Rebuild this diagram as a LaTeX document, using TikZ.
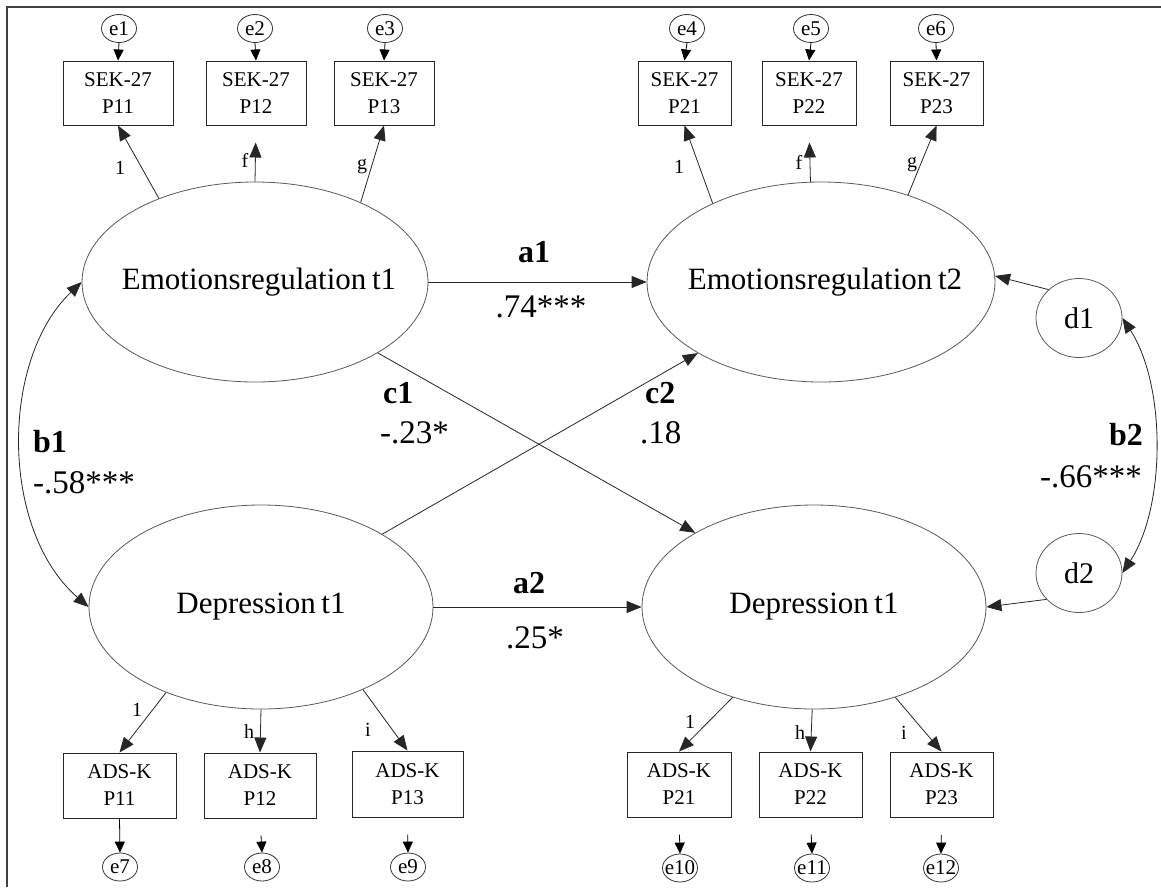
\documentclass[tikz,border=0pt]{standalone}
\usepackage{fontspec}
\setmainfont{Liberation Serif}
\usetikzlibrary{arrows.meta,shapes.geometric}
\begin{document}
\begin{tikzpicture}[x=1pt,y=-1pt,
 latent/.style={ellipse, draw=black!65, line width=0.8pt, inner sep=0pt, font=\fontsize{31}{36}\selectfont},
 dist/.style={ellipse, draw=black!65, line width=0.8pt, inner sep=0pt, minimum width=86pt, minimum height=79pt, font=\fontsize{30}{34}\selectfont},
 err/.style={ellipse, draw=black!80, line width=0.8pt, inner sep=0pt, minimum width=35pt, minimum height=28pt, font=\fontsize{21}{22}\selectfont},
 obs/.style={rectangle, draw=black!85, line width=1pt, inner sep=0pt, align=center, font=\fontsize{21}{27}\selectfont},
 pth/.style={draw=black!85, line width=0.8pt, -{Triangle[length=15pt,width=12pt]}},
 cov/.style={draw=black!85, line width=0.8pt, {Triangle[length=15pt,width=12pt]}-{Triangle[length=15pt,width=12pt]}},
 small/.style={draw=black, line width=0.8pt, -{Triangle[length=11pt,width=10pt]}},
 lab/.style={inner sep=0pt, font=\fontsize{20}{22}\selectfont},
 blab/.style={inner sep=0pt, font=\fontsize{32}{34}\selectfont\bfseries},
 vlab/.style={inner sep=0pt, font=\fontsize{33}{35}\selectfont}]
\useasboundingbox (0,0) rectangle (1161,887);
\fill[white] (0,0) rectangle (1161,887);
\draw[line width=1.6pt, black!75] (7,887) -- (7,7) -- (1161,7);

% latent variables
\node[latent, minimum width=346pt, minimum height=200pt] (ert1) at (255,282) {\makebox[0pt]{\hspace{8pt}Emotionsregulation\hspace{0.18em}t1}};
\node[latent, minimum width=348pt, minimum height=200pt] (ert2) at (821,282) {\makebox[0pt]{\hspace{8pt}Emotionsregulation\hspace{0.18em}t2}};
\node[latent, minimum width=344pt, minimum height=204pt] (dep1) at (261,607) {\makebox[0pt]{Depression\hspace{0.18em}t1}};
\node[latent, minimum width=344pt, minimum height=204pt] (dep2) at (814,607) {\makebox[0pt]{Depression\hspace{0.18em}t1}};
\node[dist] (d1) at (1079,318) {d1};
\node[dist] (d2) at (1079,573) {d2};

% top indicators
\node[obs, minimum width=110pt, minimum height=64pt] (s11) at (118,93) {SEK-27\\P11};
\node[obs, minimum width=100pt, minimum height=64pt] (s12) at (256,93) {SEK-27\\P12};
\node[obs, minimum width=100pt, minimum height=64pt] (s13) at (384,93) {SEK-27\\P13};
\node[obs, minimum width=93pt, minimum height=64pt] (s21) at (684.5,93) {SEK-27\\P21};
\node[obs, minimum width=94pt, minimum height=64pt] (s22) at (809,93) {SEK-27\\P22};
\node[obs, minimum width=93pt, minimum height=64pt] (s23) at (936.5,93) {SEK-27\\P23};

% bottom indicators
\node[obs, minimum width=113pt, minimum height=65pt] (a11) at (119.5,785.5) {ADS-K\\P11};
\node[obs, minimum width=112pt, minimum height=65pt] (a12) at (260,785.5) {ADS-K\\P12};
\node[obs, minimum width=111pt, minimum height=66pt] (a13) at (407.5,784) {ADS-K\\P13};
\node[obs, minimum width=104pt, minimum height=65pt] (a21) at (679,784.5) {ADS-K\\P21};
\node[obs, minimum width=103pt, minimum height=65pt] (a22) at (810.5,784.5) {ADS-K\\P22};
\node[obs, minimum width=103pt, minimum height=65pt] (a23) at (941.5,784.5) {ADS-K\\P23};

% error terms
\node[err] (e1) at (119,28.5) {\makebox[0pt]{e1}};
\node[err] (e2) at (255,28.5) {\makebox[0pt]{e2}};
\node[err] (e3) at (385,28.5) {\makebox[0pt]{e3}};
\node[err] (e4) at (687,28.5) {\makebox[0pt]{e4}};
\node[err] (e5) at (811,28.5) {\makebox[0pt]{e5}};
\node[err] (e6) at (936,28.5) {\makebox[0pt]{e6}};
\node[err] (e7) at (120,867) {\makebox[0pt]{e7}};
\node[err] (e8) at (262,867) {\makebox[0pt]{e8}};
\node[err] (e9) at (408,867) {\makebox[0pt]{e9}};
\node[err] (e10) at (680,868) {\makebox[0pt]{e10}};
\node[err] (e11) at (812,868) {\makebox[0pt]{e11}};
\node[err] (e12) at (941,868) {\makebox[0pt]{e12}};

% error arrows
\draw[small] (e1.south) -- (s11.north);
\draw[small] (e2.south) -- (s12.north);
\draw[small] (e3.south) -- (s13.north);
\draw[small] (e4.south) -- (s21.north);
\draw[small] (e5.south) -- (s22.north);
\draw[small] (e6.south) -- (s23.north);
\draw[small] (a11.south) -- (e7.north);
\draw[small, shorten <=17pt] (a12.south) -- (e8.north);
\draw[small, shorten <=17pt] (a13.south) -- (e9.north);
\draw[small, shorten <=17pt] (a21.south) -- (e10.north);
\draw[small, shorten <=17pt] (a22.south) -- (e11.north);
\draw[small, shorten <=17pt] (a23.south) -- (e12.north);

% loadings
\draw[pth] (ert1.139.7) -- (s11.south);
\draw[pth, shorten >=17pt] (ert1.north) -- (s12.south);
\draw[pth] (ert1.37.5) -- (s13.south);
\draw[pth] (ert2.144.3) -- (s21.south);
\draw[pth, shorten >=17pt] (ert2.96) -- (s22.south);
\draw[pth] (ert2.45) -- (s23.south);
\draw[pth] (dep1.222) -- (a11.north);
\draw[pth] (dep1.south) -- (a12.north);
\draw[pth] (dep1.-39.5) -- (a13.north);
\draw[pth] (dep2.228) -- (a21.north);
\draw[pth] (dep2.-91) -- (a22.north);
\draw[pth] (dep2.-48) -- (a23.north);

% loading labels
\node[lab] (l11) at (120,168) {1};
\node[lab] (l12) at (245,160) {f};
\node[lab] (l13) at (362,167) {g};
\node[lab] (l21) at (679,167) {1};
\node[lab] (l22) at (799,162) {f};
\node[lab] (l23) at (912,165) {g};
\node[lab] (l31) at (137,710) {1};
\node[lab] (l32) at (249,732) {h};
\node[lab] (l33) at (368,730) {i};
\node[lab] (l41) at (690,722) {1};
\node[lab] (l42) at (800,733) {h};
\node[lab] (l43) at (904,733) {i};

% structural paths
\draw[pth] (ert1.east) -- (ert2.west);
\draw[pth] (dep1.east) -- (dep2.west);
\draw[pth] (ert1.-30.7) -- (dep2.148);
\draw[pth] (dep1.31) -- (ert2.210);
\draw[pth] (d1.137) -- (ert2.2);
\draw[pth] (d2.-141) -- (dep2.east);
\draw[cov] (ert1.west) .. controls (0,360) and (0,530) .. (dep1.west);
\draw[cov] (d1.east) .. controls (1166,385) and (1166,506) .. (d2.east);

% coefficient labels
\node[blab, anchor=base] (ta1) at (534,262) {a1};
\node[vlab, anchor=base] (va1) at (541,317) {.74***};
\node[blab, anchor=base] (ta2) at (529,593) {a2};
\node[vlab, anchor=base] (va2) at (535,648) {.25*};
\node[blab, anchor=base west] (tc1) at (383,403) {c1};
\node[vlab, anchor=base west] (vc1) at (380,443) {-.23*};
\node[blab, anchor=base west] (tc2) at (645,403) {c2};
\node[vlab, anchor=base west] (vc2) at (640,443) {.18};
\node[blab, anchor=base west] (tb1) at (33,452) {b1};
\node[vlab, anchor=base west] (vb1) at (33,493) {-.58***};
\node[blab, anchor=base east] (tb2) at (1143,445) {b2};
\node[vlab, anchor=base east] (vb2) at (1142,487) {-.66***};
\end{tikzpicture}
\end{document}
